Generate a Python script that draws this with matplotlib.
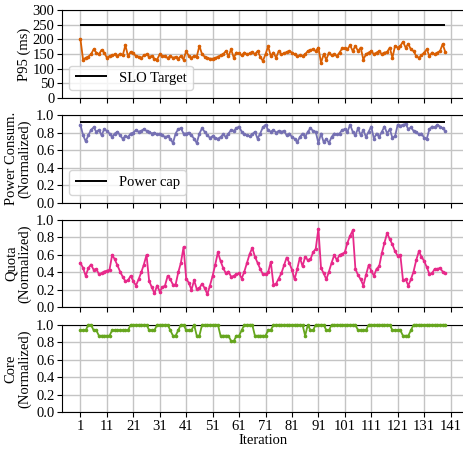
import matplotlib
matplotlib.use("Agg")
import matplotlib.pyplot as plt
import numpy as np

plt.rcParams['font.family'] = ['Liberation Serif', 'DejaVu Serif']
plt.rcParams['font.size'] = 10.5

p95 = [201, 131, 137, 141, 149, 166, 155, 149, 164, 155,
       137, 143, 145, 149, 143, 151, 145, 180, 143, 157,
       152, 143, 141, 136, 145, 149, 141, 143, 134, 131,
       149, 143, 143, 136, 143, 137, 140, 134, 143, 131,
       160, 143, 137, 143, 141, 178, 149, 141, 137, 134,
       134, 136, 141, 145, 149, 160, 143, 166, 137, 155,
       152, 145, 155, 149, 152, 157, 149, 160, 141, 126,
       149, 176, 143, 155, 137, 160, 149, 152, 157, 160,
       155, 149, 143, 145, 143, 149, 160, 164, 166, 160,
       172, 120, 149, 131, 155, 145, 149, 143, 155, 169,
       169, 166, 180, 160, 178, 160, 172, 131, 149, 155,
       160, 149, 155, 160, 149, 155, 157, 172, 137, 178,
       172, 178, 192, 172, 184, 166, 160, 143, 137, 145,
       155, 166, 143, 155, 149, 155, 160, 184, 157]

power = [0.89, 0.77, 0.70, 0.77, 0.83, 0.86, 0.81, 0.83, 0.77, 0.84,
         0.82, 0.79, 0.75, 0.79, 0.81, 0.77, 0.73, 0.76, 0.75, 0.79,
         0.80, 0.83, 0.81, 0.82, 0.84, 0.82, 0.81, 0.79, 0.80, 0.78,
         0.79, 0.77, 0.75, 0.76, 0.73, 0.68, 0.79, 0.84, 0.85, 0.79,
         0.79, 0.80, 0.77, 0.73, 0.68, 0.79, 0.85, 0.81, 0.77, 0.74,
         0.76, 0.74, 0.73, 0.75, 0.78, 0.75, 0.79, 0.83, 0.82, 0.85,
         0.87, 0.81, 0.78, 0.77, 0.76, 0.78, 0.81, 0.73, 0.79, 0.86,
         0.89, 0.83, 0.81, 0.83, 0.80, 0.82, 0.81, 0.82, 0.77, 0.79,
         0.75, 0.73, 0.69, 0.75, 0.79, 0.75, 0.81, 0.85, 0.82, 0.81,
         0.68, 0.79, 0.69, 0.73, 0.68, 0.75, 0.79, 0.78, 0.79, 0.83,
         0.84, 0.81, 0.89, 0.81, 0.77, 0.85, 0.77, 0.83, 0.75, 0.81,
         0.87, 0.73, 0.79, 0.75, 0.81, 0.87, 0.79, 0.84, 0.74, 0.76,
         0.89, 0.88, 0.89, 0.90, 0.84, 0.86, 0.82, 0.81, 0.78, 0.79,
         0.74, 0.73, 0.84, 0.87, 0.86, 0.89, 0.87, 0.85, 0.82]

quota = [0.51, 0.45, 0.36, 0.45, 0.49, 0.43, 0.44, 0.38, 0.39, 0.41,
         0.42, 0.43, 0.60, 0.55, 0.48, 0.41, 0.35, 0.30, 0.31, 0.36,
         0.30, 0.25, 0.32, 0.40, 0.49, 0.60, 0.30, 0.23, 0.16, 0.25,
         0.18, 0.23, 0.25, 0.36, 0.32, 0.26, 0.26, 0.40, 0.51, 0.69,
         0.33, 0.28, 0.20, 0.31, 0.21, 0.22, 0.27, 0.22, 0.15, 0.25,
         0.36, 0.49, 0.63, 0.53, 0.45, 0.39, 0.41, 0.35, 0.36, 0.38,
         0.39, 0.33, 0.41, 0.51, 0.61, 0.68, 0.58, 0.51, 0.44, 0.38,
         0.38, 0.40, 0.52, 0.26, 0.27, 0.33, 0.39, 0.48, 0.57, 0.51,
         0.43, 0.32, 0.44, 0.57, 0.47, 0.58, 0.54, 0.55, 0.63, 0.67,
         0.90, 0.45, 0.39, 0.32, 0.41, 0.51, 0.60, 0.54, 0.60, 0.61,
         0.63, 0.74, 0.82, 0.88, 0.44, 0.37, 0.32, 0.25, 0.37, 0.48,
         0.42, 0.36, 0.44, 0.47, 0.62, 0.74, 0.85, 0.78, 0.72, 0.64,
         0.59, 0.60, 0.31, 0.32, 0.25, 0.32, 0.41, 0.54, 0.64, 0.58,
         0.53, 0.46, 0.38, 0.39, 0.44, 0.44, 0.45, 0.41, 0.39]

core_units = [15, 15, 15, 16, 16, 15, 15, 14, 14, 14,
              14, 14, 15, 15, 15, 15, 15, 15, 15, 16,
              16, 16, 16, 16, 16, 16, 15, 15, 15, 16,
              16, 16, 16, 16, 15, 14, 14, 15, 16, 16,
              15, 15, 15, 16, 14, 14, 16, 16, 16, 16,
              16, 16, 16, 14, 14, 14, 14, 13, 13, 14,
              14, 15, 16, 16, 16, 16, 14, 14, 14, 14,
              14, 15, 15, 16, 16, 16, 16, 16, 16, 16,
              16, 16, 16, 16, 16, 14, 16, 15, 15, 16,
              16, 16, 16, 15, 15, 16, 16, 16, 16, 16,
              16, 16, 16, 16, 16, 15, 15, 15, 15, 16,
              16, 16, 16, 16, 16, 16, 16, 16, 15, 15,
              15, 15, 14, 14, 14, 15, 16, 16, 16, 16,
              16, 16, 16, 16, 16, 16, 16, 16, 16]
total_cores = 16
core = [c / total_cores for c in core_units]

slo_target = 250
power_cap = 0.92

iters = np.arange(1, len(p95) + 1)
xticks = list(range(1, 142, 10))

colors = ['#d95f02', '#7570b3', '#e7298a', '#66a61e']

fig, axes = plt.subplots(4, 1, figsize=(4.64, 4.49), dpi=100, sharex=True)
fig.subplots_adjust(left=0.134, right=0.999, top=0.977, bottom=0.082, hspace=0.2)

series = [p95, power, quota, core]
ylabels = ['P95 (ms)', 'Power Consum.\n(Normalized)', 'Quota\n(Normalized)', 'Core\n(Normalized)']

for ax, s, c, yl in zip(axes, series, colors, ylabels):
    ax.plot(iters, s, color=c, lw=1.3, marker='.', ms=3.2, zorder=3, clip_on=False)
    ax.set_ylabel(yl, fontsize=10.5, labelpad=1, linespacing=1.0)
    ax.grid(True, color='#c4c4c4', lw=1.0)
    ax.set_axisbelow(True)
    ax.tick_params(labelsize=10.5, length=3.5, pad=2)

axes[0].hlines(slo_target, iters[0], iters[-1], color='black', lw=1.4, label='SLO Target', zorder=4)
axes[0].set_ylim(0, 300)
axes[0].set_yticks(range(0, 301, 50))
axes[0].legend(loc='lower left', fontsize=10.5, handlelength=2.2, borderpad=0.4, framealpha=0.8)

axes[1].hlines(power_cap, iters[0], iters[-1], color='black', lw=1.4, label='Power cap', zorder=4)
axes[1].legend(loc='lower left', fontsize=10.5, handlelength=2.2, borderpad=0.4, framealpha=0.8)

for ax in axes[1:]:
    ax.set_ylim(0, 1.0)
    ax.set_yticks(np.arange(0, 1.01, 0.2))
    ax.set_yticklabels([f'{v:.1f}' for v in np.arange(0, 1.01, 0.2)])

axes[-1].set_xlim(-5.9, 145.9)
axes[-1].set_xticks(xticks)
axes[-1].set_xticklabels([str(t) for t in xticks])
axes[-1].set_xlabel('Iteration', fontsize=10.5, labelpad=1)

fig.align_ylabels(axes)
fig.savefig('out.png', dpi=100)
